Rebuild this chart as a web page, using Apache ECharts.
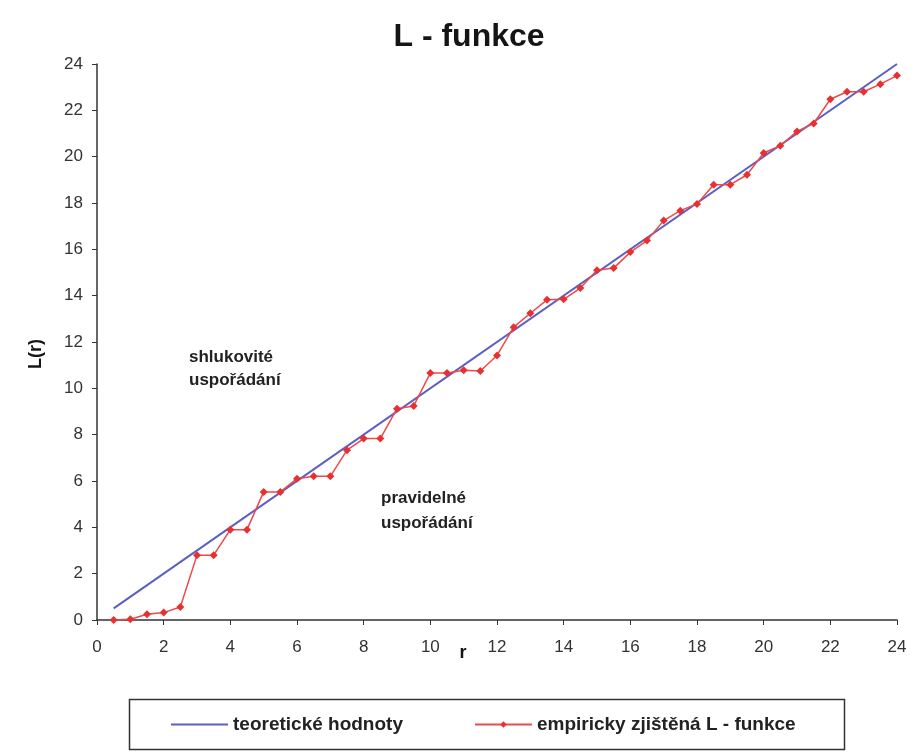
<!DOCTYPE html>
<html>
<head>
<meta charset="utf-8">
<script src="https://cdn.jsdelivr.net/npm/echarts@6/dist/echarts.min.js"></script>
<style>
  html, body { margin: 0; padding: 0; background: #fff; }
  #chart { width: 918px; height: 754px; }
</style>
</head>
<body>
<div id="chart"></div>
<script>
// r values for the empirical curve (step 0.5)
const rValues = [0.5, 1, 1.5, 2, 2.5, 3, 3.5, 4, 4.5, 5, 5.5, 6, 6.5, 7, 7.5, 8,
  8.5, 9, 9.5, 10, 10.5, 11, 11.5, 12, 12.5, 13, 13.5, 14, 14.5, 15, 15.5, 16,
  16.5, 17, 17.5, 18, 18.5, 19, 19.5, 20, 20.5, 21, 21.5, 22, 22.5, 23, 23.5, 24];
const empirical = [0, 0.03, 0.25, 0.32, 0.56, 2.8, 2.8, 3.9, 3.9, 5.53, 5.53, 6.1,
  6.2, 6.2, 7.33, 7.83, 7.83, 9.12, 9.24, 10.66, 10.66, 10.78, 10.75, 11.42,
  12.64, 13.24, 13.82, 13.84, 14.33, 15.1, 15.19, 15.88, 16.38, 17.24, 17.67,
  17.96, 18.79, 18.79, 19.22, 20.16, 20.47, 21.09, 21.43, 22.48, 22.8, 22.8, 23.13, 23.5];
// theoretical L(r) line end points
const theoR = [0.5, 24];
const theoL = [0.5, 24];

const chart = echarts.init(document.getElementById('chart'));
const font = 'Liberation Sans, Arial, sans-serif';

chart.setOption({
  animation: false,
  backgroundColor: '#fff',
  title: {
    text: 'L - funkce',
    left: 464, top: 16, textAlign: 'center',
    textStyle: { fontFamily: font, fontSize: 32, fontWeight: 'bold', color: '#151515' }
  },
  grid: { left: 97, right: 21, top: 64, bottom: 134 },
  xAxis: {
    type: 'value', min: 0, max: 24, interval: 2,
    name: 'r', nameLocation: 'middle', nameGap: 24, nameMoveOverlap: false,
    nameTextStyle: { fontFamily: font, fontSize: 18, fontWeight: 'bold', color: '#151515',
      padding: [0, 68, 0, 0] },
    axisLine: { lineStyle: { color: '#333', width: 1.5 } },
    axisTick: { lineStyle: { color: '#333' }, length: 5 },
    axisLabel: { fontFamily: font, fontSize: 17, color: '#333', margin: 19 },
    splitLine: { show: false }
  },
  yAxis: {
    type: 'value', min: 0, max: 24, interval: 2,
    name: 'L(r)', nameLocation: 'middle', nameGap: 52, nameMoveOverlap: false,
    nameTextStyle: { fontFamily: font, fontSize: 18, fontWeight: 'bold', color: '#151515',
      padding: [0, 24, 0, 0] },
    axisLine: { show: true, lineStyle: { color: '#333', width: 1.5 } },
    axisTick: { show: true, lineStyle: { color: '#333' }, length: 5 },
    axisLabel: { fontFamily: font, fontSize: 17, color: '#333', margin: 14 },
    splitLine: { show: false }
  },
  legend: {
    left: 165, top: 710, itemGap: 71, itemWidth: 57, itemHeight: 8,
    textStyle: { fontFamily: font, fontSize: 19, fontWeight: 'bold', color: '#222' },
    data: [
      { name: 'teoretické hodnoty', itemStyle: { opacity: 0 } },
      { name: 'empiricky zjištěná L - funkce' }
    ]
  },
  graphic: [
    { type: 'rect', left: 127, top: 697, shape: { width: 715, height: 50 },
      style: { fill: 'none', stroke: '#333', lineWidth: 1.5 }, z: -1 },
    { type: 'text', left: 189, top: 346,
      style: { text: 'shlukovité\nuspořádání', fill: '#222', lineHeight: 23,
        font: 'bold 17px ' + font } },
    { type: 'text', left: 381, top: 486,
      style: { text: 'pravidelné\nuspořádání', fill: '#222', lineHeight: 25,
        font: 'bold 17px ' + font } }
  ],
  series: [
    {
      name: 'teoretické hodnoty', type: 'line',
      data: theoR.map((r, i) => [r, theoL[i]]),
      showSymbol: false, symbol: 'none',
      lineStyle: { color: '#5b5fc2', width: 2 },
      itemStyle: { color: '#5b5fc2' }
    },
    {
      name: 'empiricky zjištěná L - funkce', type: 'line',
      data: rValues.map((r, i) => [r, empirical[i]]),
      symbol: 'diamond', symbolSize: 8,
      lineStyle: { color: '#f04848', width: 1.5 },
      itemStyle: { color: '#e83030' }
    }
  ]
});
</script>
</body>
</html>
